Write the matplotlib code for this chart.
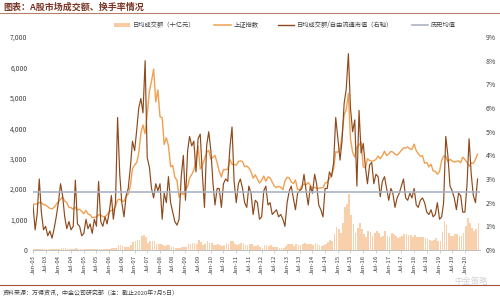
import numpy as np
import pandas as pd
import matplotlib
matplotlib.use("Agg")
import matplotlib.pyplot as plt
from matplotlib.patches import Patch
from matplotlib.lines import Line2D
from matplotlib.ticker import FuncFormatter, MultipleLocator

plt.rcParams['font.family'] = ['Noto Sans CJK SC', 'DejaVu Sans']

dates = pd.date_range("2003-01-01", "2020-07-01", freq="MS")

# 上证指数 (left axis)
shcomp = [
    1500, 1510, 1510, 1560, 1560, 1490, 1480, 1420, 1370, 1350, 1400, 1497,
    1590, 1670, 1740, 1610, 1560, 1400, 1390, 1340, 1400, 1320, 1340, 1266,
    1190, 1300, 1180, 1160, 1060, 1080, 1080, 1160, 1150, 1090, 1100, 1161,
    1260, 1300, 1300, 1440, 1640, 1670, 1610, 1600, 1750, 1840, 2100, 2675,
    2790, 2880, 3180, 3840, 4110, 3820, 4470, 5220, 5550, 5950, 4870, 5260,
    4380, 4350, 3470, 3690, 3430, 2740, 2780, 2400, 2290, 1730, 1870, 1820,
    1990, 2080, 2370, 2480, 2630, 2960, 3410, 2670, 2780, 2990, 3200, 3280,
    2990, 3050, 3110, 2870, 2590, 2400, 2640, 2640, 2660, 2980, 2820, 2810,
    2790, 2910, 2930, 2910, 2740, 2760, 2700, 2570, 2360, 2470, 2330, 2200,
    2290, 2430, 2260, 2400, 2370, 2230, 2100, 2050, 2090, 2070, 1980, 2270,
    2390, 2370, 2240, 2180, 2300, 1980, 1990, 2100, 2170, 2140, 2220, 2120,
    2030, 2060, 2030, 2030, 2040, 2050, 2200, 2220, 2360, 2420, 2680, 3230,
    3210, 3310, 3750, 4440, 4610, 5150, 3660, 3210, 3050, 3380, 3450, 3540,
    2740, 2690, 3000, 2940, 2920, 2930, 2980, 3090, 3000, 3100, 3250, 3100,
    3160, 3240, 3220, 3150, 3120, 3190, 3270, 3360, 3350, 3390, 3320, 3310,
    3480, 3260, 3170, 3080, 3100, 2850, 2880, 2730, 2820, 2600, 2590, 2490,
    2580, 2940, 3090, 3080, 2900, 2980, 2930, 2890, 2910, 2930, 2870, 3050,
    2980, 2880, 2750, 2860, 2850, 2980, 3150,
]

# 日均成交额（十亿元） (left axis)
turnover = [
    25, 30, 30, 45, 40, 30, 30, 25, 20, 25, 30, 35,
    45, 60, 70, 55, 35, 30, 25, 25, 50, 30, 30, 25,
    20, 35, 30, 30, 25, 40, 25, 40, 35, 25, 25, 30,
    40, 60, 50, 70, 160, 160, 120, 90, 100, 100, 160, 260,
    300, 320, 330, 450, 480, 420, 230, 310, 300, 300, 200, 180,
    180, 150, 130, 150, 160, 100, 110, 80, 70, 70, 90, 100,
    90, 200, 200, 220, 230, 200, 330, 270, 170, 200, 300, 240,
    220, 170, 170, 200, 170, 140, 150, 240, 210, 310, 310, 210,
    170, 200, 240, 230, 160, 150, 180, 190, 120, 140, 160, 100,
    80, 150, 170, 140, 150, 110, 110, 90, 80, 80, 80, 130,
    190, 200, 190, 130, 180, 160, 150, 200, 240, 200, 190, 180,
    160, 220, 180, 150, 140, 160, 210, 270, 330, 300, 530, 750,
    690, 560, 880, 1400, 1500, 1850, 1150, 850, 550, 730, 890, 700,
    540, 420, 610, 600, 470, 550, 620, 570, 430, 450, 620, 460,
    420, 550, 530, 450, 390, 420, 470, 530, 520, 480, 500, 440,
    490, 420, 440, 410, 430, 380, 350, 320, 310, 320, 380, 300,
    300, 600, 960, 830, 550, 470, 470, 510, 540, 470, 470, 560,
    780, 1050, 880, 720, 630, 680, 900,
]

# 日均成交额/自由流通市值（右轴, %）
ratio = [
    1.9, 0.85, 1.5, 3.0, 1.6, 0.85, 1.0, 0.6, 0.8, 0.5, 0.9, 1.4,
    2.0, 2.8, 2.3, 1.4, 0.9, 1.2, 0.85, 1.0, 2.95, 1.1, 1.0, 0.6,
    0.7, 1.3, 0.9, 1.1, 0.7, 1.3, 1.0, 2.9, 1.2, 1.0, 1.4, 1.1,
    1.6, 2.3, 1.3, 2.0, 5.6, 3.2, 2.0, 1.4, 2.3, 2.6, 3.5, 4.6,
    4.2, 5.1, 6.0, 6.4, 5.8, 8.0, 3.9, 3.5, 2.6, 2.2, 2.8, 2.5,
    2.8, 1.3, 2.4, 2.0, 3.1, 2.0, 1.6, 1.2, 1.05, 1.3, 3.1, 4.0,
    2.1, 4.2, 4.8, 4.4, 4.6, 3.3, 4.7, 4.9, 3.2, 1.8, 4.4, 5.0,
    4.2, 2.8, 1.9, 2.6, 2.6, 1.8, 2.8, 3.0, 2.9, 4.3, 5.2, 2.9,
    2.0, 2.8, 3.0, 2.6, 2.0, 1.8, 2.7, 2.4, 1.5, 2.1, 2.0, 1.3,
    1.4, 2.5, 2.7, 1.9, 2.0, 1.5, 1.6, 1.7, 1.4, 1.5, 1.3, 1.0,
    2.0, 2.5, 2.7, 2.2, 1.7, 2.4, 2.5, 2.6, 3.2, 2.5, 1.9, 2.7,
    2.4, 3.2, 2.8, 1.9, 1.7, 1.4, 2.6, 2.6, 3.3, 3.1, 3.7, 5.6,
    4.7, 3.8, 4.6, 6.2, 6.8, 8.3, 6.0, 5.0, 5.5, 2.7, 5.9, 4.1,
    4.5, 3.5, 2.8, 3.6, 3.7, 2.8, 3.2, 3.1, 2.25, 2.9, 3.1, 2.6,
    2.1, 2.6, 2.4, 1.8, 2.2, 2.4, 2.7, 3.0, 2.2, 2.1, 2.4, 2.2,
    2.6, 1.9, 1.8, 2.1, 2.2, 2.0, 1.6, 1.5, 1.7, 1.4, 1.5, 2.0,
    1.3, 1.4, 2.0, 4.8, 4.0, 2.7, 2.5, 2.2, 1.7, 2.4, 2.3, 1.6,
    1.6, 2.8, 4.7, 3.2, 2.3, 2.0, 3.0,
]

hist_mean = 2.45  # 历史均值 (%)

tick_dates = pd.date_range("2003-01-01", "2020-01-01", freq="6MS")
tick_labels = [d.strftime("%b-%y") for d in tick_dates]

C_BAR = '#F8CBA2'
C_SH = '#F0A050'
C_RATIO = '#8E4A1C'
C_MEAN = '#A9B4C2'

fig = plt.figure(figsize=(5.0, 2.99), dpi=100)
ax = fig.add_axes([0.066, 0.164, 0.894, 0.712])
ax2 = ax.twinx()

ax.bar(dates, turnover, width=24, color=C_BAR, alpha=0.9, align='edge', zorder=1)
ax.plot(dates, shcomp, color=C_SH, lw=1.0, zorder=3)
ax2.plot(dates, ratio, color=C_RATIO, lw=0.85, zorder=4)
ax2.axhline(hist_mean, color=C_MEAN, lw=1.2, zorder=5)

ax.set_zorder(ax2.get_zorder() - 1)
ax.patch.set_visible(False)

ax.set_ylim(0, 7000)
ax.yaxis.set_major_locator(MultipleLocator(1000))
ax.yaxis.set_major_formatter(FuncFormatter(lambda v, p: f"{int(v):,}"))
ax2.set_ylim(0, 9)
ax2.yaxis.set_major_locator(MultipleLocator(1))
ax2.yaxis.set_major_formatter(FuncFormatter(lambda v, p: f"{int(v)}%"))

ax.set_xlim(pd.Timestamp("2003-01-01"), pd.Timestamp("2020-08-05"))
ax.set_xticks(tick_dates)
ax.set_xticklabels(tick_labels, rotation=90, fontsize=4.3, color='#404040')

for a in (ax, ax2):
    for s in ('top', 'left', 'right'):
        a.spines[s].set_visible(False)
    a.spines['bottom'].set_color('#BFBFBF')
    a.spines['bottom'].set_linewidth(0.6)
ax.tick_params(axis='y', length=0, labelsize=5, colors='#404040', pad=4)
ax2.tick_params(axis='y', length=0, labelsize=5, colors='#404040', pad=4)
ax.tick_params(axis='x', length=2, width=0.5, color='#BFBFBF', pad=1.5)

handles = [
    Patch(facecolor=C_BAR, edgecolor='none'),
    Line2D([], [], color=C_SH, lw=1.1),
    Line2D([], [], color=C_RATIO, lw=1.0),
    Line2D([], [], color=C_MEAN, lw=1.2),
]
labels = ['日均成交额（十亿元）', '上证指数', '日均成交额/自由流通市值（右轴）', '历史均值']
fig.legend(handles, labels, loc='center', bbox_to_anchor=(0.57, 0.915), ncol=4,
           frameon=False, fontsize=4.5, handlelength=2.6, handleheight=0.5,
           columnspacing=3.0, handletextpad=0.5, labelcolor='#404040')

fig.text(0.006, 0.975, '图表：A股市场成交额、换手率情况', fontsize=6.5, color='#7A3526',
         va='center', ha='left', fontweight='bold')
fig.add_artist(Line2D([0.0, 1.0], [0.955, 0.955], transform=fig.transFigure,
                      color='#B8806A', lw=0.8))
fig.add_artist(Line2D([0.0, 1.0], [0.047, 0.047], transform=fig.transFigure,
                      color='#A0523C', lw=0.8))
fig.text(0.006, 0.022, '资料来源：万得资讯，中金公司研究部（注：截止2020年7月5日）',
         fontsize=4.3, color='#404040', va='center', ha='left')
fig.text(0.975, 0.058, '中金策略', fontsize=6, color='#D5D5D5', va='center', ha='right')

fig.savefig('out.png', dpi=100)
